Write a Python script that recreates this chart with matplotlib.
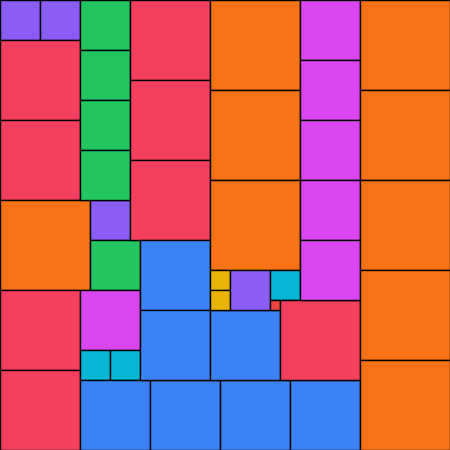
import matplotlib.pyplot as plt
from matplotlib.patches import Rectangle

# tiles in grid units (1 unit = 10 px), origin top-left
tile_x = [0, 4, 0, 0, 0, 9, 9, 0, 0, 8, 8, 11, 8, 15, 22, 29,
          8, 8, 8, 8, 13, 13, 13, 14, 14, 21, 21, 21, 21,
          21, 21, 23, 27, 27, 28, 30, 30, 30, 30, 30, 36, 36, 36, 36, 36]
tile_y = [0, 0, 4, 12, 20, 20, 24, 29, 37, 29, 35, 35, 38, 38, 38, 38,
          0, 5, 10, 15, 0, 8, 16, 24, 31, 31, 0, 9, 18,
          27, 29, 27, 27, 30, 30, 0, 6, 12, 18, 24, 0, 9, 18, 27, 36]
tile_w = [4, 4, 8, 8, 9, 4, 5, 8, 8, 6, 3, 3, 7, 7, 7, 7,
          5, 5, 5, 5, 8, 8, 8, 7, 7, 7, 9, 9, 9,
          2, 2, 4, 3, 1, 8, 6, 6, 6, 6, 6, 9, 9, 9, 9, 9]
tile_h = [4, 4, 8, 8, 9, 4, 5, 8, 8, 6, 3, 3, 7, 7, 7, 7,
          5, 5, 5, 5, 8, 8, 8, 7, 7, 7, 9, 9, 9,
          2, 2, 4, 3, 1, 8, 6, 6, 6, 6, 6, 9, 9, 9, 9, 9]
tile_color = ["purple", "purple", "red", "red", "orange", "purple", "green", "red", "red",
              "magenta", "cyan", "cyan", "blue", "blue", "blue", "blue",
              "green", "green", "green", "green", "red", "red", "red", "blue", "blue", "blue",
              "orange", "orange", "orange",
              "yellow", "yellow", "purple", "cyan", "red2", "red",
              "magenta", "magenta", "magenta", "magenta", "magenta",
              "orange", "orange", "orange", "orange", "orange"]

PALETTE = {
    "purple": "#8b5cf6", "red": "#f43f5e", "red2": "#ef4444", "green": "#22c55e",
    "orange": "#f97316", "magenta": "#d946ef", "blue": "#3b82f6",
    "cyan": "#06b6d4", "yellow": "#eab308",
}

fig = plt.figure(figsize=(4.5, 4.5), dpi=100)
ax = fig.add_axes([0, 0, 1, 1])

for x, y, w, h, c in zip(tile_x, tile_y, tile_w, tile_h, tile_color):
    ax.add_patch(Rectangle((x, y), w, h, facecolor=PALETTE[c],
                           edgecolor="black", linewidth=1))

ax.set_xlim(0, 45)
ax.set_ylim(45, 0)
ax.axis("off")

fig.savefig("out.png", dpi=100)
